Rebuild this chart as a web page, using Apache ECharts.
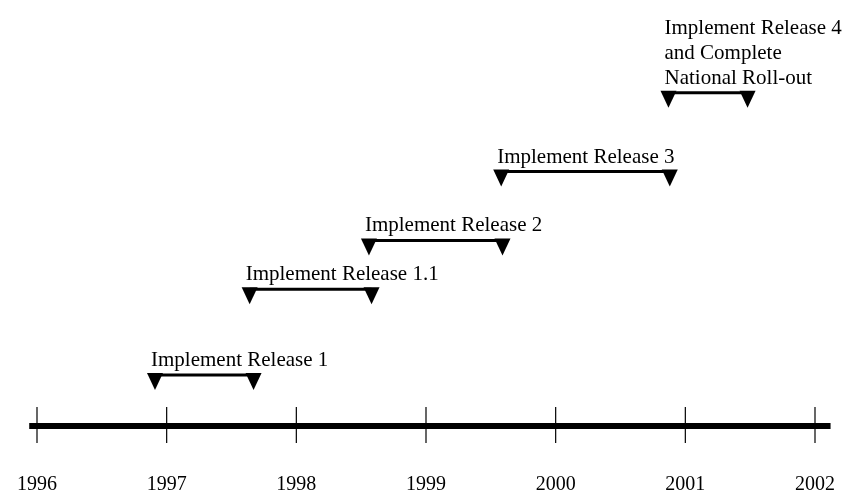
<!DOCTYPE html>
<html><head><meta charset="utf-8">
<script src="https://cdn.jsdelivr.net/npm/echarts@6/dist/echarts.min.js"></script>
<style>html,body{margin:0;padding:0;background:#fff}#c{width:842px;height:495px}</style>
</head><body><div id="c"></div>
<script>
const years = [1996, 1997, 1998, 1999, 2000, 2001, 2002];
const releaseNames = ['Implement Release 1', 'Implement Release 1.1', 'Implement Release 2', 'Implement Release 3', 'Implement Release 4\nand Complete\nNational Roll-out'];
const releaseStart = [1996.91, 1997.64, 1998.56, 1999.58, 2000.87];
const releaseEnd = [1997.67, 1998.58, 1999.59, 2000.88, 2001.48];
const releaseLevel = [51, 137, 186, 255, 334];
const axisSpan = [1995.94, 2002.12];

const FONT = '"Liberation Serif", "DejaVu Serif", serif';
const chart = echarts.init(document.getElementById('c'));

const releaseData = releaseNames.map((n, i) => [releaseStart[i], releaseEnd[i], releaseLevel[i], n]);

chart.setOption({
  animation: false,
  grid: { left: 37, right: 27, top: 0, bottom: 68 },
  xAxis: {
    type: 'value', min: 1996, max: 2002, interval: 1,
    axisLine: { show: false }, axisTick: { show: false }, splitLine: { show: false },
    axisLabel: { margin: 49, color: '#000', fontSize: 20, fontFamily: FONT, formatter: v => String(v) }
  },
  yAxis: { type: 'value', min: 0, max: 427, show: false },
  series: [
    {
      type: 'custom', z: 2, silent: true, clip: false,
      data: [[axisSpan[0], axisSpan[1], 0]],
      renderItem: (params, api) => {
        const a = api.coord([api.value(0), api.value(2)]);
        const b = api.coord([api.value(1), api.value(2)]);
        return { type: 'line', shape: { x1: a[0], y1: a[1], x2: b[0], y2: b[1] }, style: { stroke: '#000', lineWidth: 6 } };
      }
    },
    {
      type: 'custom', z: 3, silent: true, clip: false,
      data: years.map(y => [y, 0]),
      renderItem: (params, api) => {
        const p = api.coord([api.value(0), api.value(1)]);
        return { type: 'line', shape: { x1: p[0], y1: p[1] - 19, x2: p[0], y2: p[1] + 17 }, style: { stroke: '#000', lineWidth: 1.2 } };
      }
    },
    {
      type: 'custom', z: 4, silent: true, clip: false,
      data: releaseData,
      renderItem: (params, api) => {
        const a = api.coord([api.value(0), api.value(2)]);
        const b = api.coord([api.value(1), api.value(2)]);
        const y = a[1];
        const tri = x => ({ type: 'polygon', shape: { points: [[x - 8, y - 2], [x + 8, y - 2], [x, y + 15]] }, style: { fill: '#000' } });
        const name = releaseNames[params.dataIndex];
        return {
          type: 'group',
          children: [
            { type: 'line', shape: { x1: a[0], y1: y, x2: b[0], y2: y }, style: { stroke: '#000', lineWidth: 3 } },
            tri(a[0]), tri(b[0]),
            { type: 'text', style: { text: name, x: a[0] - 4, y: y - 2, align: 'left', verticalAlign: 'bottom', fill: '#000', fontSize: 21, fontFamily: FONT, lineHeight: 25 } }
          ]
        };
      }
    }
  ]
});
</script></body></html>
